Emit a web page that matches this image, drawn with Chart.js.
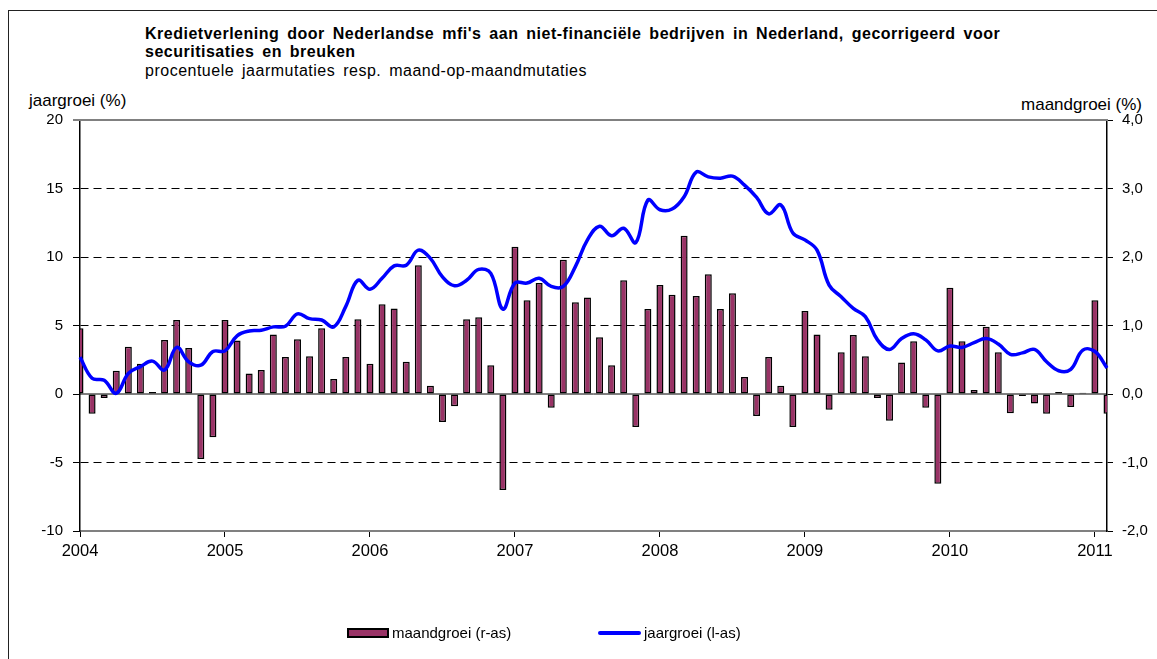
<!DOCTYPE html>
<html>
<head>
<meta charset="utf-8">
<script src="https://cdn.jsdelivr.net/npm/chart.js@4"></script>
<style>
  body { margin: 0; background: #fff; font-family: "Liberation Sans", Arial, sans-serif; }
  #wrap { position: relative; width: 1157px; height: 659px; overflow: hidden; }
  #frame { position: absolute; left: 8px; top: 10px; width: 1200px; height: 700px; border-top: 1px solid #222; border-left: 1px solid #222; }
  .txt { position: absolute; white-space: nowrap; color: #000; line-height: 18px; }
  .title { left: 145px; font-weight: bold; font-size: 16px; letter-spacing: 0.5px; word-spacing: 3px; }
  .sub { left: 145px; top: 62px; font-size: 16px; letter-spacing: 0.5px; word-spacing: 3px; }
  .axt { font-size: 17px; line-height: 20px; }
  canvas { position: absolute; left: 0; top: 0; }
  .leg { position: absolute; top: 624px; font-size: 15px; }
  .sw-bar { position: absolute; width: 38px; height: 6px; background: #993366; border: 2px solid #000; }
  .sw-line { position: absolute; width: 43px; height: 4px; background: #0000ff; border-radius: 2px; }
</style>
</head>
<body>
<div id="wrap">
  <div id="frame"></div>
  <div class="txt title" style="top:25px">Kredietverlening door Nederlandse mfi's aan niet-financiële bedrijven in Nederland, gecorrigeerd voor</div>
  <div class="txt title" style="top:43px">securitisaties en breuken</div>
  <div class="txt sub">procentuele jaarmutaties resp. maand-op-maandmutaties</div>
  <div class="txt axt" style="left:29px;top:91px">jaargroei (%)</div>
  <div class="txt axt" style="right:15px;top:95px">maandgroei (%)</div>
  <canvas id="chart" width="1157" height="659"></canvas>
  <div class="sw-bar" style="left:347px;top:628px"></div>
  <div class="txt leg" style="left:392px">maandgroei (r-as)</div>
  <div class="sw-line" style="left:598px;top:631px"></div>
  <div class="txt leg" style="left:644px">jaargroei (l-as)</div>
</div>
<script>
// months jan 2004 .. feb 2011
const years = [2004, 2005, 2006, 2007, 2008, 2009, 2010, 2011];
const months = [];
years.forEach(y => {
    for (let m = 1; m <= 12; m++) {
        if (y === 2011 && m > 2) break;
        months.push(y + '-' + m);
    }
});

// maand-op-maand mutaties (%), right axis
const maandgroei = [
    0.96, -0.29, -0.06, 0.34, 0.69, 0.44, 0.03, 0.79, 1.08, 0.67, -0.95, -0.63,
    1.08, 0.78, 0.30, 0.35, 0.87, 0.54, 0.80, 0.55, 0.96, 0.22, 0.54, 1.09,
    0.44, 1.31, 1.25, 0.47, 1.88, 0.12, -0.41, -0.18, 1.09, 1.12, 0.42, -1.40,
    2.15, 1.37, 1.62, -0.20, 1.96, 1.34, 1.41, 0.83, 0.42, 1.66, -0.48, 1.24,
    1.59, 1.45, 2.31, 1.43, 1.75, 1.24, 1.47, 0.25, -0.32, 0.54, 0.12, -0.48,
    1.21, 0.87, -0.23, 0.61, 0.86, 0.55, -0.06, -0.39, 0.46, 0.77, -0.20, -1.31,
    1.55, 0.77, 0.06, 0.98, 0.61, -0.28, -0.03, -0.14, -0.29, 0.03, -0.19, 0.02,
    1.37, -0.29
];

// jaarmutaties (%), left axis
const jaargroei = [
    2.7, 1.15, 1.0, 0.05, 1.5, 2.0, 2.4, 1.75, 3.4, 2.35, 2.1, 3.1,
    3.15, 4.25, 4.6, 4.65, 4.9, 4.95, 5.85, 5.5, 5.4, 4.9, 6.4, 8.3,
    7.65, 8.45, 9.35, 9.4, 10.5, 9.9, 8.55, 7.9, 8.3, 9.1, 8.8, 6.2,
    8.1, 8.1, 8.45, 7.85, 7.85, 9.3, 11.25, 12.25, 11.55, 12.1, 11.05, 14.15,
    13.45, 13.5, 14.4, 16.2, 15.85, 15.75, 15.9, 15.25, 14.35, 13.15, 13.8, 11.75,
    11.25, 10.5, 7.95, 7.1, 6.25, 5.65, 3.95, 3.25, 4.05, 4.4, 3.95, 3.15,
    3.5, 3.4, 3.75, 4.05, 3.65, 2.9, 3.0, 3.25, 2.35, 1.7, 1.8, 3.2,
    3.1, 1.9
];

const fontFam = '"Liberation Sans", Arial, sans-serif';
const isJan = i => months[i] && months[i].endsWith('-1');

// solid zero line + grey top frame
const framePlugin = {
    id: 'frame',
    beforeDatasetsDraw(chart) {
        const { ctx, chartArea: a } = chart;
        const y0 = chart.scales.y.getPixelForValue(0);
        ctx.save();
        ctx.strokeStyle = '#000';
        ctx.lineWidth = 1;
        ctx.beginPath();
        ctx.moveTo(a.left, y0);
        ctx.lineTo(a.right, y0);
        ctx.stroke();
        ctx.strokeStyle = '#808080';
        ctx.lineWidth = 2;
        ctx.beginPath();
        ctx.moveTo(a.left - 7, a.top);
        ctx.lineTo(a.right + 1, a.top);
        ctx.stroke();
        ctx.restore();
    }
};

new Chart(document.getElementById('chart'), {
    type: 'bar',
    data: {
        labels: months,
        datasets: [
            {
                type: 'line',
                label: 'jaargroei (l-as)',
                data: jaargroei,
                yAxisID: 'y',
                borderColor: '#0000ff',
                borderWidth: 3.5,
                pointRadius: 0,
                tension: 0.4,
                fill: false,
                order: 0
            },
            {
                type: 'bar',
                label: 'maandgroei (r-as)',
                data: maandgroei,
                yAxisID: 'y1',
                backgroundColor: '#993366',
                borderColor: '#000',
                borderWidth: 1.5,
                borderSkipped: false,
                barPercentage: 0.58,
                categoryPercentage: 1,
                order: 1
            }
        ]
    },
    options: {
        responsive: false,
        animation: false,
        devicePixelRatio: 1,
        layout: { padding: { top: 120, left: 0, right: 0, bottom: 0 } },
        plugins: {
            legend: { display: false },
            tooltip: { enabled: false }
        },
        scales: {
            x: {
                offset: false,
                afterFit(scale) { scale.height = 128; },
                grid: {
                    offset: false,
                    drawOnChartArea: false,
                    drawTicks: true,
                    tickLength: 6,
                    tickColor: ctx => isJan(ctx.index) ? '#000' : 'rgba(0,0,0,0)'
                },
                border: { color: '#808080', width: 2 },
                ticks: {
                    autoSkip: false,
                    maxRotation: 0,
                    padding: 5,
                    color: '#000',
                    font: { family: fontFam, size: 16.5 },
                    callback: function (v, i) {
                        return isJan(i) ? months[i].split('-')[0] : '';
                    }
                }
            },
            y: {
                position: 'left',
                min: -10,
                max: 20,
                afterFit(scale) { scale.width = 80; },
                grid: {
                    color: ctx => (ctx.tick && [20, 0, -10].includes(ctx.tick.value)) ? 'rgba(0,0,0,0)' : '#000',
                    lineWidth: 1,
                    tickLength: 7,
                    tickColor: '#000'
                },
                border: { color: '#000', width: 1.5, dash: [8, 5] },
                ticks: {
                    stepSize: 5,
                    padding: 10,
                    color: '#000',
                    font: { family: fontFam, size: 15 }
                }
            },
            y1: {
                position: 'right',
                min: -2,
                max: 4,
                afterFit(scale) { scale.width = 50; },
                grid: {
                    drawOnChartArea: false,
                    tickLength: 6,
                    tickColor: '#000'
                },
                border: { color: '#000', width: 1.5 },
                ticks: {
                    stepSize: 1,
                    padding: 9,
                    color: '#000',
                    font: { family: fontFam, size: 15 },
                    callback: v => v.toFixed(1).replace('.', ',')
                }
            }
        }
    },
    plugins: [framePlugin]
});
</script>
</body>
</html>
